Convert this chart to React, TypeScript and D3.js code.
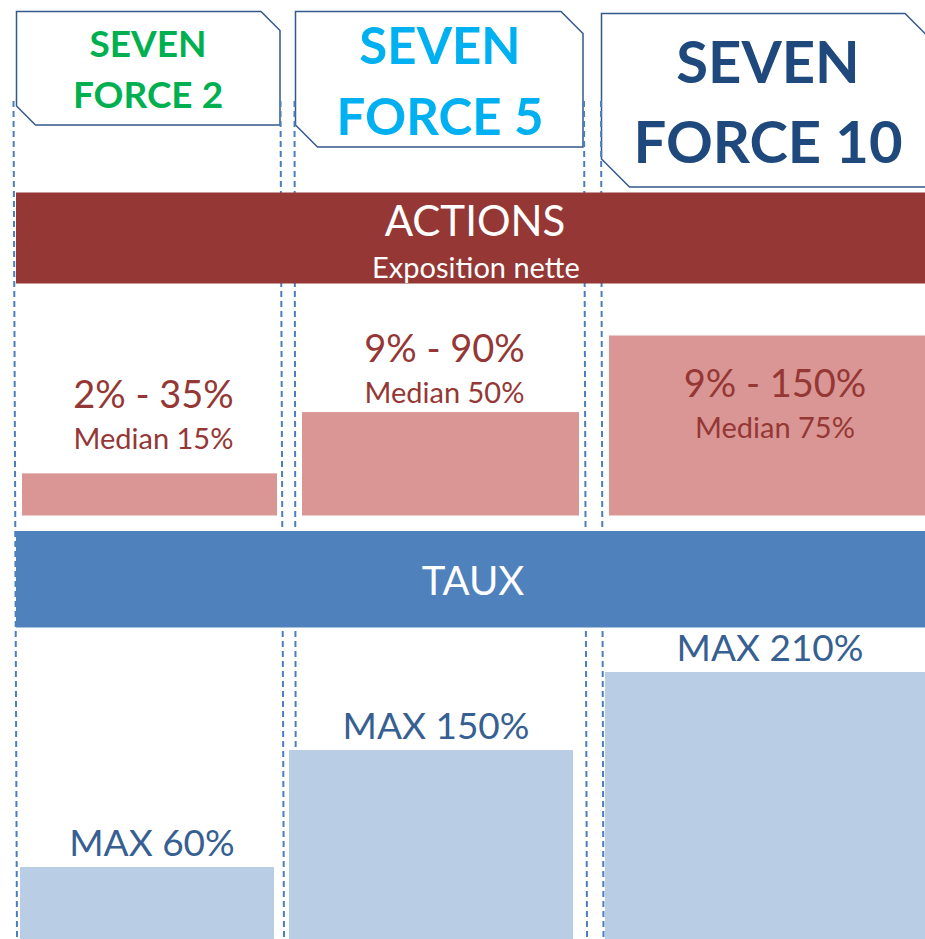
import React from 'react';
import * as d3 from 'd3';

// data
const products = ['SEVEN FORCE 2', 'SEVEN FORCE 5', 'SEVEN FORCE 10'];
const actionsMin = [2, 9, 9];
const actionsMax = [35, 90, 150];
const actionsMedian = [15, 50, 75];
const tauxMax = [60, 150, 210];

// layout
const W = 925;
const H = 939;
const FONT = "Lato, 'Open Sans', sans-serif";
const headerColors = ['#00B050', '#00B0F0', '#1F497D'];
const headerBoxes = [
  { x0: 16.5, y0: 11.5, x1: 280, y1: 125, cut: 19 },
  { x0: 295.5, y0: 11.5, x1: 583, y1: 147, cut: 22 },
  { x0: 601.5, y0: 13.5, x1: 933, y1: 187, cut: 28 },
];
const headerFont = [37, 51, 58];
const headerBaselines = [
  [57, 108],
  [64, 135],
  [83, 163],
];
const headerCenter = [148, 440, 768];
const dividers = [
  [13.5, 17],
  [280.5, 284],
  [294.5, 296],
  [584, 587],
  [601, 603.5],
];
const actionsCols = [
  [22, 277],
  [302, 579],
  [609, 941],
];
const labelGap = [24, 9];
const tauxCols = [
  [20, 274],
  [289, 573],
  [605, 925],
];
const actionsBand = { y0: 192.5, y1: 283.5 };
const tauxBand = { y0: 531, y1: 627.5 };

export default function App() {
  const idx = d3.range(products.length);

  // red bars show the width of the exposure range
  const actionsBase = 515.5;
  const rangeScale = d3.scaleLinear().domain([0, 141]).range([0, 180]);
  const tauxY = d3.scaleLinear().domain([0, 210]).range([945, 672]);

  const cutBox = (b: any) =>
    [
      [b.x0, b.y0],
      [b.x1 - b.cut, b.y0],
      [b.x1, b.y0 + b.cut],
      [b.x1, b.y1],
      [b.x0 + b.cut, b.y1],
      [b.x0, b.y1 - b.cut],
    ]
      .map(p => p.join(','))
      .join(' ');

  const headers = idx.map(i => {
    const [l1, ...rest] = products[i].split(' ');
    const lines = [l1, rest.join(' ')];
    return (
      <g key={products[i]}>
        <polygon points={cutBox(headerBoxes[i])} fill="#fff" stroke="#33588A" strokeWidth={1.5} />
        {lines.map((t, j) => (
          <text
            key={t}
            x={headerCenter[i]}
            y={headerBaselines[i][j]}
            textAnchor="middle"
            fontFamily={FONT}
            fontWeight="bold"
            fontSize={headerFont[i]}
            fill={headerColors[i]}>
            {t}
          </text>
        ))}
      </g>
    );
  });

  const lines = dividers.map(([xa, xb], i) => (
    <line key={i} x1={xa} y1={101} x2={xb} y2={H} stroke="#4A7EBF" strokeWidth={2} strokeDasharray="6,4" />
  ));

  const actionBars = idx.map(i => {
    const h = rangeScale(actionsMax[i] - actionsMin[i]);
    const top = actionsBase - h;
    const [x0, x1] = actionsCols[i];
    const cx = (x0 + x1) / 2 + (i === 2 ? 0 : 4);
    const inside = h > 120;
    const medY = inside ? top + 102 : top - labelGap[i];
    return (
      <g key={products[i]}>
        <rect x={x0} y={top} width={x1 - x0} height={h} fill="#D99694" />
        <text x={cx} y={medY - 41} textAnchor="middle" fontFamily={FONT} fontSize={38} fill="#953735">
          {`${actionsMin[i]}% - ${actionsMax[i]}%`}
        </text>
        <text x={cx} y={medY} textAnchor="middle" fontFamily={FONT} fontSize={29} fill="#953735">
          {`Median ${actionsMedian[i]}%`}
        </text>
      </g>
    );
  });

  const tauxBars = idx.map(i => {
    const top = tauxY(tauxMax[i]);
    const [x0, x1] = tauxCols[i];
    return (
      <g key={products[i]}>
        <rect x={x0} y={top} width={x1 - x0} height={H - top} fill="#B9CDE5" />
        <text x={(x0 + x1) / 2 + 5} y={top - 11} textAnchor="middle" fontFamily={FONT} fontSize={37} fill="#376092">
          {`MAX ${tauxMax[i]}%`}
        </text>
      </g>
    );
  });

  return (
    <svg width={W} height={H} style={{ position: 'absolute', left: 0, top: 0, background: '#fff' }}>
      {headers}
      {lines}
      <rect x={16} y={actionsBand.y0} width={W - 16} height={actionsBand.y1 - actionsBand.y0} fill="#953735" />
      <text x={475} y={236} textAnchor="middle" fontFamily={FONT} fontSize={42} fill="#fff">
        ACTIONS
      </text>
      <text x={476} y={278} textAnchor="middle" fontFamily={FONT} fontSize={29} fill="#fff">
        Exposition nette
      </text>
      {actionBars}
      <rect x={16} y={tauxBand.y0} width={W - 16} height={tauxBand.y1 - tauxBand.y0} fill="#4F81BD" />
      <text x={473} y={595} textAnchor="middle" fontFamily={FONT} fontSize={40} fill="#fff">
        TAUX
      </text>
      {tauxBars}
    </svg>
  );
}
